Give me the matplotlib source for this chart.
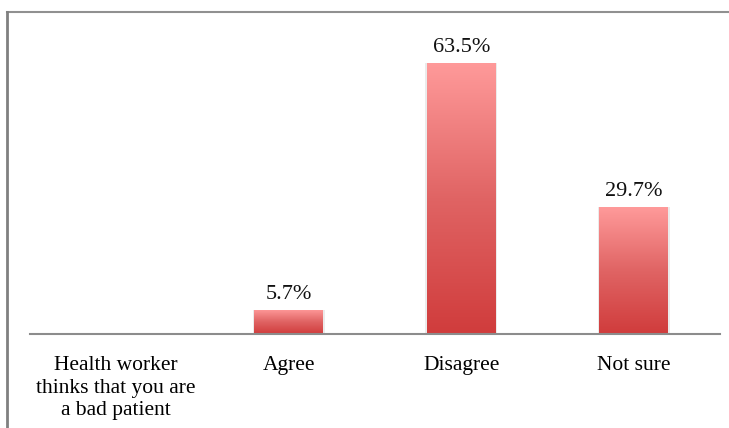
import matplotlib.pyplot as plt
import numpy as np
from matplotlib.colors import LinearSegmentedColormap
from matplotlib.lines import Line2D

categories = ["Health worker\nthinks that you are\na bad patient", "Agree", "Disagree", "Not sure"]
values = [None, 5.7, 63.5, 29.7]
labels = ["", "5.7%", "63.5%", "29.7%"]

plt.rcParams['font.family'] = ['Liberation Serif', 'DejaVu Serif']

fig = plt.figure(figsize=(7.29, 4.28), dpi=100)
# axes: x 30..720 px, baseline at y=334 px
ax = fig.add_axes([30 / 729, (428 - 334) / 428, 690 / 729, 322 / 428])

# gradient: light pink at top, darker red at bottom
grad = LinearSegmentedColormap.from_list("barred", ["#d03c3c", "#e06464", "#ff9a9a"])
x = np.arange(len(categories))
width = 0.4
for xi, v, lab in zip(x, values, labels):
    if v is None:
        continue
    # faint shadow
    ax.bar(xi, v, width=width + 0.015, color="#d8d8d8", alpha=0.5, zorder=1)
    img = ax.imshow(np.linspace(0, 1, 256).reshape(-1, 1), cmap=grad, aspect='auto',
                    origin='lower', extent=[xi - width / 2, xi + width / 2, 0, v], zorder=2)
    rect = plt.Rectangle((xi - width / 2, 0), width, v, transform=ax.transData)
    img.set_clip_path(rect)
    ax.text(xi, v + 2.5, lab, ha='center', va='baseline', fontsize=16, color="#111111")

ax.set_xlim(-0.5, len(categories) - 0.5)
ax.set_ylim(0, 75.4)
ax.set_xticks(x)
ax.set_xticklabels(categories, fontsize=15.5, linespacing=1.25, va='top')
ax.tick_params(axis='x', length=0, pad=16)
ax.set_yticks([])
for s in ['top', 'right', 'left']:
    ax.spines[s].set_visible(False)
ax.spines['bottom'].set_color("#8c8c8c")
ax.spines['bottom'].set_linewidth(1.5)

# outer frame (only top and left visible)
fig.add_artist(Line2D([7 / 729, 1.0], [1 - 12 / 428, 1 - 12 / 428], color="#909090", lw=1.5))
fig.add_artist(Line2D([7 / 729, 7 / 729], [0, 1 - 12 / 428], color="#808080", lw=2))

fig.savefig("out.png", dpi=100)
